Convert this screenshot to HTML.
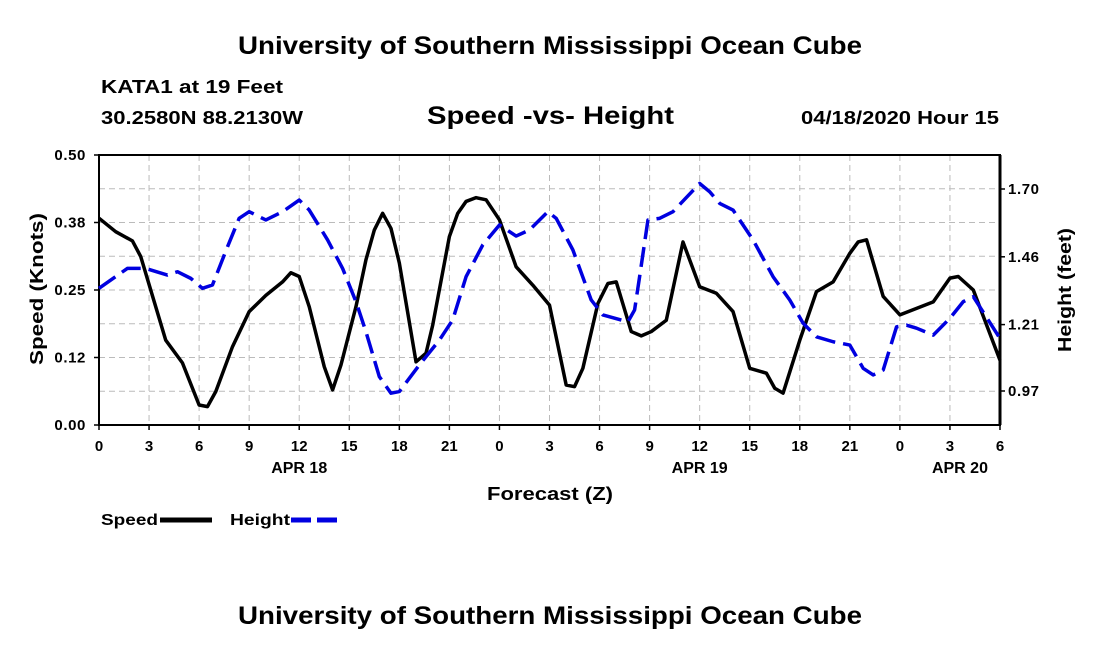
<!DOCTYPE html>
<html><head><meta charset="utf-8"><style>
body{margin:0;background:#fff;}
svg text{font-family:"Liberation Sans",sans-serif;font-weight:bold;fill:#000;}
</style></head><body>
<svg width="1100" height="650" xmlns="http://www.w3.org/2000/svg">
<rect width="1100" height="650" fill="#fff"/>
<text x="238" y="54" font-size="25" textLength="624" lengthAdjust="spacingAndGlyphs">University of Southern Mississippi Ocean Cube</text>
<text x="101" y="93" font-size="18" textLength="182" lengthAdjust="spacingAndGlyphs">KATA1 at 19 Feet</text>
<text x="101" y="124" font-size="18" textLength="202" lengthAdjust="spacingAndGlyphs">30.2580N 88.2130W</text>
<text x="427" y="124" font-size="25" textLength="247" lengthAdjust="spacingAndGlyphs">Speed -vs- Height</text>
<text x="801" y="124" font-size="18" textLength="198" lengthAdjust="spacingAndGlyphs">04/18/2020 Hour 15</text>
<g id="grid"></g>
<g id="axes"></g>
<g id="series"></g>
<text x="487" y="500" font-size="18" textLength="126" lengthAdjust="spacingAndGlyphs">Forecast (Z)</text>
<text transform="translate(43,365) rotate(-90)" font-size="18" textLength="152" lengthAdjust="spacingAndGlyphs">Speed (Knots)</text>
<text transform="translate(1071,352) rotate(-90)" font-size="18" textLength="124" lengthAdjust="spacingAndGlyphs">Height (feet)</text>
<g>
<text x="101" y="525" font-size="16" textLength="57" lengthAdjust="spacingAndGlyphs">Speed</text>
<line x1="160" y1="520" x2="212" y2="520" stroke="#000" stroke-width="5"/>
<text x="230" y="525" font-size="16" textLength="60" lengthAdjust="spacingAndGlyphs">Height</text>
<line x1="291" y1="520" x2="343" y2="520" stroke="#0000e0" stroke-width="5" stroke-dasharray="20 6"/>
</g>
<text x="238" y="624" font-size="25" textLength="624" lengthAdjust="spacingAndGlyphs">University of Southern Mississippi Ocean Cube</text>
</svg>
<script>
const speedHours=[0,1,2,2.5,3.1,4,5,6,6.5,7,8,9,10,11,11.5,12,12.6,13.5,14,14.5,15.4,16,16.5,17,17.5,18,19,19.6,20,21,21.5,22,22.6,23.2,24,25,26,27,28,28.5,29,29.9,30.5,31,31.9,32.5,33.1,34,35,36,37,38,39,40,40.5,41,42,43,44,45,45.5,46,47,48,49,50,51,51.5,52.4,54];
const speedValues=[0.383,0.358,0.341,0.312,0.25,0.157,0.115,0.037,0.034,0.062,0.145,0.21,0.24,0.265,0.282,0.275,0.219,0.108,0.065,0.111,0.219,0.306,0.361,0.392,0.364,0.30,0.117,0.133,0.185,0.349,0.392,0.414,0.421,0.417,0.38,0.293,0.259,0.222,0.074,0.071,0.105,0.225,0.262,0.265,0.173,0.165,0.173,0.194,0.339,0.256,0.244,0.21,0.105,0.096,0.068,0.059,0.157,0.247,0.265,0.318,0.339,0.343,0.238,0.204,0.216,0.228,0.272,0.275,0.25,0.12];
const heightHours=[0,1.7,2.8,4.1,4.7,5.5,6.2,6.8,7.7,8.4,9,10,11,12,12.6,13.7,14.6,15.4,16,16.8,17.5,18,19.2,20.4,21.2,22,23,24,25,25.8,26.9,27.4,28.4,29.5,30.2,31.7,32.1,32.4,32.9,33.6,34.4,36,36.6,37.2,38,39.2,40.4,41.4,42.2,43,44,45,45.8,46.4,47,47.8,48.4,49,50,51,51.8,52.4,54];
const heightValues=[1.341,1.413,1.413,1.389,1.401,1.377,1.341,1.353,1.491,1.594,1.618,1.588,1.618,1.66,1.624,1.516,1.413,1.293,1.184,1.022,0.962,0.968,1.064,1.154,1.227,1.383,1.498,1.57,1.53,1.552,1.618,1.594,1.48,1.299,1.245,1.22,1.263,1.383,1.588,1.594,1.618,1.72,1.69,1.648,1.624,1.516,1.383,1.299,1.215,1.166,1.148,1.136,1.052,1.028,1.046,1.202,1.208,1.197,1.172,1.233,1.293,1.311,1.16];
const xTickLabels=["0","3","6","9","12","15","18","21","0","3","6","9","12","15","18","21","0","3","6"];
const dayLabels=["APR 18","APR 19","APR 20"];
const dayLabelHours=[12,36,51.6];
const speedTickLabels=["0.00","0.12","0.25","0.38","0.50"];
const speedTickValues=[0,0.125,0.25,0.375,0.5];
const heightTickLabels=["0.97","1.21","1.46","1.70"];
const heightTickValues=[0.97,1.21,1.455,1.70];

const L=99,R=1000,T=155,B=425;
const xS=h=>L+h*(R-L)/54;
const yS=v=>B-v*(B-T)/0.5;
const yH=v=>391-(v-0.97)*(202/0.73);
const NS="http://www.w3.org/2000/svg";
function mk(tag,attrs,parent){const e=document.createElementNS(NS,tag);for(const k in attrs)e.setAttribute(k,attrs[k]);parent.appendChild(e);return e;}
const grid=document.getElementById('grid'),axes=document.getElementById('axes'),series=document.getElementById('series');
for(let i=1;i<18;i++){const l=mk('line',{x1:xS(i*3),x2:xS(i*3),y1:T,y2:B,stroke:'#bbb','stroke-dasharray':'6 4'},grid);

}
for(let i=1;i<8;i++){const l=mk('line',{x1:L,x2:R,y1:yS(i*0.0625),y2:yS(i*0.0625),stroke:'#bbb','stroke-dasharray':'6 4'},grid);

}
const fr=mk('rect',{x:L,y:T,width:R-L,height:B-T,fill:'none',stroke:'#000','stroke-width':2},axes);


mk('line',{x1:R,x2:R,y1:T,y2:B,stroke:'#000','stroke-width':3},axes);
xTickLabels.forEach((t,i)=>{const x=xS(i*3);
mk('line',{x1:x,x2:x,y1:B,y2:B+5,stroke:'#000','stroke-width':1.5},axes);
const tx=mk('text',{x:x,y:B+26,'font-size':15,'text-anchor':'middle'},axes);tx.textContent=t;

});
dayLabels.forEach((t,i)=>{const tx=mk('text',{x:xS(dayLabelHours[i]),y:B+48,'font-size':16,'text-anchor':'middle'},axes);tx.textContent=t;

});
speedTickLabels.forEach((t,i)=>{const y=yS(speedTickValues[i]);
mk('line',{x1:L-5,x2:L,y1:y,y2:y,stroke:'#000','stroke-width':1.5},axes);
const tx=mk('text',{x:L-13,y:y+5,'font-size':15,'text-anchor':'end','letter-spacing':'0.6'},axes);tx.textContent=t;

});
heightTickLabels.forEach((t,i)=>{const y=yH(heightTickValues[i]);
mk('line',{x1:R,x2:R+5,y1:y,y2:y,stroke:'#000','stroke-width':1.5},axes);
const tx=mk('text',{x:R+8,y:y+5,'font-size':15,'letter-spacing':'0.6'},axes);tx.textContent=t;

});
const sp=mk('polyline',{points:speedHours.map((h,i)=>xS(h)+','+yS(speedValues[i])).join(' '),fill:'none',stroke:'#000','stroke-width':3.5,'stroke-linejoin':'round'},series);


const ht=mk('polyline',{points:heightHours.map((h,i)=>xS(h)+','+yH(heightValues[i])).join(' '),fill:'none',stroke:'#0000e0','stroke-width':3.5,'stroke-dasharray':'20 8','stroke-linejoin':'round'},series);


</script>
</body></html>
